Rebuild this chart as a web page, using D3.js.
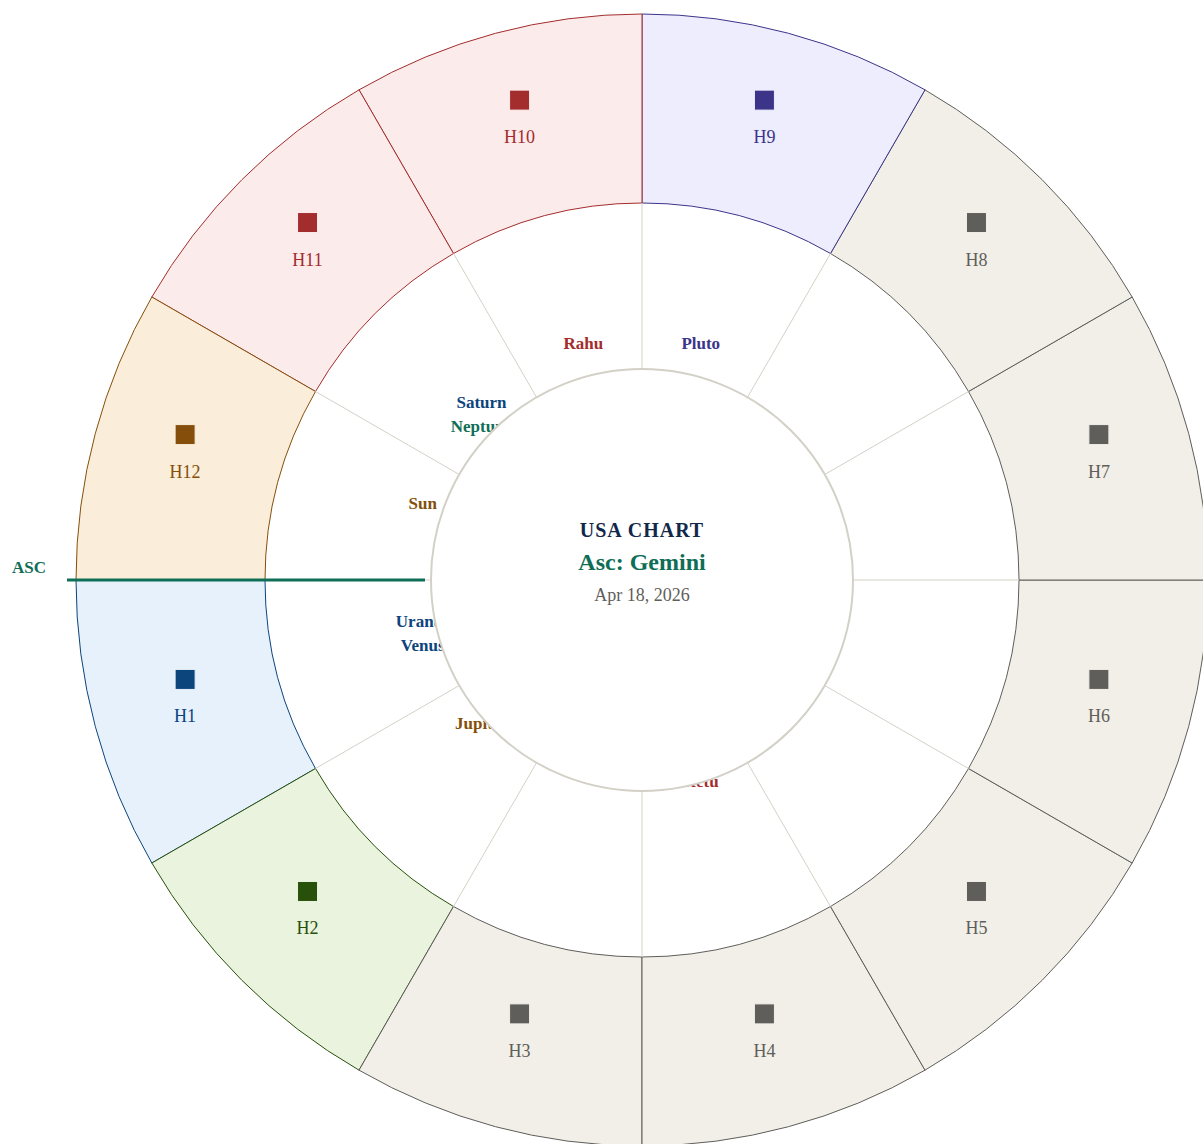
<!DOCTYPE html>
<html>
<head>
<meta charset="utf-8">
<script src="https://cdn.jsdelivr.net/npm/d3@7"></script>
<style>
  body { margin: 0; background: #fff; }
  text { font-family: "Liberation Serif", "Times New Roman", serif; }
</style>
</head>
<body>
<svg id="chart"></svg>
<script>
// chart data
var houses = ["H1","H2","H3","H4","H5","H6","H7","H8","H9","H10","H11","H12"];
var houseStroke = ["#0c447c","#27500a","#5f5e5a","#5f5e5a","#5f5e5a","#5f5e5a",
                   "#5f5e5a","#5f5e5a","#3c3489","#a32d2d","#a32d2d","#854f0b"];
var houseFill = ["#e6f1fb","#eaf3de","#f1efe8","#f1efe8","#f1efe8","#f1efe8",
                 "#f1efe8","#f1efe8","#eeedfe","#fcebeb","#fcebeb","#faeeda"];
var planets = ["Uranus","Venus","Jupiter","Ketu","Pluto","Rahu","Saturn","Neptune","Sun"];
var planetHouse = [1, 1, 2, 4, 9, 10, 11, 11, 12];
var planetColor = ["#0c447c","#0c447c","#854f0b","#a32d2d","#3c3489","#a32d2d","#0c447c","#0f6e56","#854f0b"];
var title = "USA CHART", ascSign = "Gemini", chartDate = "Apr 18, 2026";

// layout
var width = 1203, height = 1144;
var cx = 642, cy = 580;
var radius = {center: 211, ring: 377, outer: 566, planet: 227, house: 473};

var svg = d3.select("#chart").attr("width", width).attr("height", height);
var g = svg.append("g").attr("transform", "translate(" + cx + "," + cy + ")");

// house index -> angle (d3 convention, clockwise from 12 o'clock); houses run counter-clockwise from ASC
var angle = d3.scaleLinear().domain([0, 12]).range([-Math.PI / 2, -Math.PI / 2 - 2 * Math.PI]);

function pos(r, a) { return [r * Math.sin(a), -r * Math.cos(a)]; }

var houseArc = d3.arc()
  .innerRadius(radius.ring)
  .outerRadius(radius.outer)
  .startAngle(function(d, i) { return angle(i); })
  .endAngle(function(d, i) { return angle(i + 1); });

// outer ring of houses
g.selectAll("path.house")
  .data(houses)
  .enter().append("path")
  .attr("class", "house")
  .attr("d", houseArc)
  .attr("fill", function(d, i) { return houseFill[i]; })
  .attr("stroke", function(d, i) { return houseStroke[i]; })
  .attr("stroke-width", 1);

// spokes in the planet ring
g.selectAll("line.spoke")
  .data(houses)
  .enter().append("line")
  .attr("class", "spoke")
  .attr("x1", function(d, i) { return pos(radius.center, angle(i))[0]; })
  .attr("y1", function(d, i) { return pos(radius.center, angle(i))[1]; })
  .attr("x2", function(d, i) { return pos(radius.ring, angle(i))[0]; })
  .attr("y2", function(d, i) { return pos(radius.ring, angle(i))[1]; })
  .attr("stroke", "#d3d1c7")
  .attr("stroke-width", 1);

// house markers
var hg = g.selectAll("g.hlabel")
  .data(houses)
  .enter().append("g")
  .attr("class", "hlabel")
  .attr("transform", function(d, i) {
    var p = pos(radius.house, angle(i + 0.5));
    return "translate(" + p[0] + "," + p[1] + ")";
  });

hg.append("rect")
  .attr("x", -10).attr("y", -33)
  .attr("width", 20).attr("height", 20)
  .attr("fill", function(d, i) { return houseStroke[i]; })
  .attr("stroke", function(d, i) { return houseFill[i]; })
  .attr("stroke-width", 1);

hg.append("text")
  .attr("y", 20)
  .attr("text-anchor", "middle")
  .attr("font-size", 18)
  .attr("fill", function(d, i) { return houseStroke[i]; })
  .text(function(d) { return d; });

// planets, stacked per house
var countInHouse = {};
g.selectAll("text.planet")
  .data(planets)
  .enter().append("text")
  .attr("class", "planet")
  .each(function(d, i) {
    var h = planetHouse[i];
    var k = countInHouse[h] || 0;
    countInHouse[h] = k + 1;
    var p = pos(radius.planet, angle(h - 0.5));
    d3.select(this)
      .attr("x", p[0])
      .attr("y", p[1] - 12 + k * 24);
  })
  .attr("text-anchor", "middle")
  .attr("font-size", 17)
  .attr("font-weight", "bold")
  .attr("fill", function(d, i) { return planetColor[i]; })
  .text(function(d) { return d; });

// center disc
g.append("circle")
  .attr("r", radius.center)
  .attr("fill", "#fff")
  .attr("stroke", "#d3d1c7")
  .attr("stroke-width", 2);

g.append("text")
  .attr("y", -43)
  .attr("text-anchor", "middle")
  .attr("font-size", 20)
  .attr("font-weight", "bold")
  .attr("letter-spacing", 1)
  .attr("fill", "#12284a")
  .text(title);

g.append("text")
  .attr("y", -10)
  .attr("text-anchor", "middle")
  .attr("font-size", 24)
  .attr("font-weight", "bold")
  .attr("fill", "#0f6e56")
  .text("Asc: " + ascSign);

g.append("text")
  .attr("y", 21)
  .attr("text-anchor", "middle")
  .attr("font-size", 18)
  .attr("fill", "#5f5e5a")
  .text(chartDate);

// ascendant line
var ascA = angle(0);
g.append("line")
  .attr("x1", pos(575, ascA)[0]).attr("y1", pos(575, ascA)[1])
  .attr("x2", pos(217, ascA)[0]).attr("y2", pos(217, ascA)[1])
  .attr("stroke", "#0f6e56")
  .attr("stroke-width", 3);

g.append("text")
  .attr("x", pos(613, ascA)[0])
  .attr("y", pos(613, ascA)[1] - 7)
  .attr("text-anchor", "middle")
  .attr("font-size", 17)
  .attr("font-weight", "bold")
  .attr("fill", "#0f6e56")
  .text("ASC");
</script>
</body>
</html>
